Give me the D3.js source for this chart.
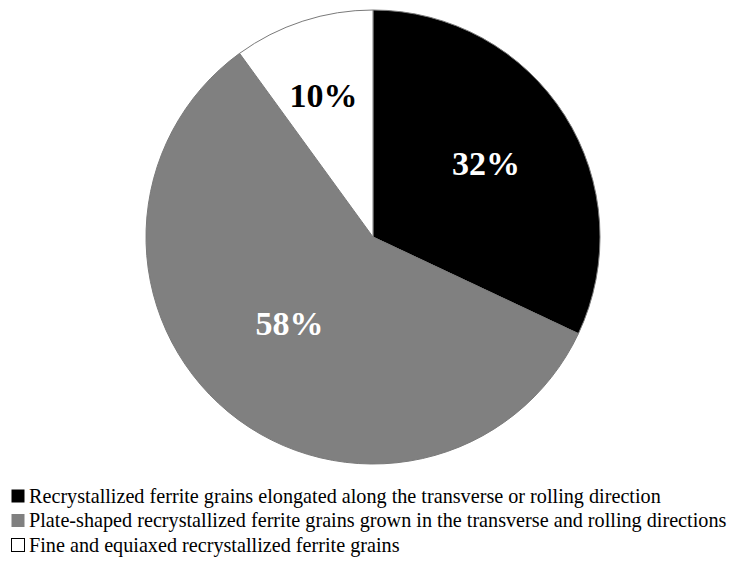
<!DOCTYPE html>
<html>
<head>
<meta charset="utf-8">
<script src="https://cdn.jsdelivr.net/npm/d3@7"></script>
<style>
  html, body { margin: 0; padding: 0; background: #fff; }
  svg { display: block; }
</style>
</head>
<body>
<svg id="chart" width="731" height="567"></svg>
<script>
// Grain morphology fractions (percent)
const categories = [
  "Recrystallized ferrite grains elongated along the transverse or rolling direction",
  "Plate-shaped recrystallized ferrite grains grown in the transverse and rolling directions",
  "Fine and equiaxed recrystallized ferrite grains"
];
const values = [32, 58, 10];
const labels = ["32%", "58%", "10%"];

// Presentation settings
const fills = ["#000000", "#808080", "#ffffff"];
const labelColors = ["#ffffff", "#ffffff", "#000000"];
const labelRadiusFrac = [0.595, 0.53, 0.662];
const labelAngleShiftDeg = [-0.8, 4.4, -1.2];

const svg = d3.select("#chart");
const cx = 373, cy = 237, R = 227;
const serif = "'Liberation Serif', 'Times New Roman', Times, serif";

const pie = d3.pie().sort(null).value(d => d)
  .startAngle(0).endAngle(2 * Math.PI);
const arcs = pie(values);
const arc = d3.arc().innerRadius(0).outerRadius(R);

const g = svg.append("g").attr("transform", `translate(${cx},${cy})`);

g.selectAll("path.slice")
  .data(arcs)
  .join("path")
  .attr("class", "slice")
  .attr("d", arc)
  .attr("fill", (d, i) => fills[i])
  .attr("stroke", "#7a7a7a")
  .attr("stroke-width", 1);

g.selectAll("text.pct")
  .data(arcs)
  .join("text")
  .attr("class", "pct")
  .attr("transform", (d, i) => {
    const r = R * labelRadiusFrac[i];
    const a = (d.startAngle + d.endAngle) / 2 + labelAngleShiftDeg[i] * Math.PI / 180;
    return `translate(${r * Math.sin(a)},${-r * Math.cos(a)})`;
  })
  .attr("text-anchor", "middle")
  .attr("dy", "0.34em")
  .attr("font-family", serif)
  .attr("font-weight", "bold")
  .attr("font-size", 34)
  .attr("fill", (d, i) => labelColors[i])
  .text((d, i) => labels[i]);

// Legend
const legend = svg.append("g").attr("transform", "translate(11,496)");
const rowH = 24.5;
const items = legend.selectAll("g.item")
  .data(categories)
  .join("g")
  .attr("class", "item")
  .attr("transform", (d, i) => `translate(0,${i * rowH})`);

items.append("rect")
  .attr("x", 0.5)
  .attr("y", -6.5)
  .attr("width", 13)
  .attr("height", 13)
  .attr("fill", (d, i) => fills[i])
  .attr("stroke", (d, i) => i === 2 ? "#000" : "none")
  .attr("stroke-width", 1);

items.append("text")
  .attr("x", 18)
  .attr("y", 0)
  .attr("dy", "0.34em")
  .attr("font-family", serif)
  .attr("font-size", 20.2)
  .attr("fill", "#000")
  .text(d => d);
</script>
</body>
</html>
